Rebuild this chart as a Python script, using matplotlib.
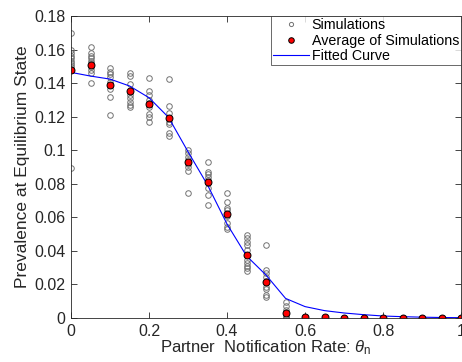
import matplotlib
matplotlib.use("Agg")
import matplotlib.pyplot as plt
from matplotlib.lines import Line2D

plt.rcParams['font.family'] = ['Liberation Sans', 'DejaVu Sans']
plt.rcParams['mathtext.fontset'] = 'custom'
plt.rcParams['mathtext.it'] = 'Liberation Sans:italic'
plt.rcParams['mathtext.rm'] = 'Liberation Sans'

# notification rates
theta = [0.0, 0.05, 0.1, 0.15, 0.2, 0.25, 0.3, 0.35, 0.4, 0.45, 0.5,
         0.55, 0.6, 0.65, 0.7, 0.75, 0.8, 0.85, 0.9, 0.95, 1.0]

# simulation runs at each rate
sims = [
    [0.1697, 0.1600, 0.1578, 0.1562, 0.1548, 0.1532, 0.1518, 0.1508, 0.1498, 0.1480, 0.0892],
    [0.1617, 0.1578, 0.1562, 0.1548, 0.1534, 0.1518, 0.1498, 0.1478, 0.1462, 0.1402],
    [0.1488, 0.1468, 0.1454, 0.1438, 0.1408, 0.1389, 0.1363, 0.1315, 0.1208],
    [0.1458, 0.1442, 0.1395, 0.1349, 0.1329, 0.1310, 0.1289, 0.1270, 0.1256],
    [0.1429, 0.1355, 0.1329, 0.1299, 0.1280, 0.1260, 0.1216, 0.1200, 0.1170],
    [0.1423, 0.1264, 0.1220, 0.1190, 0.1170, 0.1156, 0.1100, 0.1085],
    [0.1001, 0.0982, 0.0961, 0.0942, 0.0920, 0.0902, 0.0878, 0.0745],
    [0.0928, 0.0872, 0.0858, 0.0840, 0.0825, 0.0805, 0.0773, 0.0733, 0.0673],
    [0.0743, 0.0693, 0.0654, 0.0644, 0.0608, 0.0568, 0.0541, 0.0529],
    [0.0495, 0.0475, 0.0455, 0.0435, 0.0405, 0.0375, 0.0346, 0.0326, 0.0310, 0.0296, 0.0282],
    [0.0435, 0.0286, 0.0266, 0.0246, 0.0220, 0.0187, 0.0171, 0.0137, 0.0123],
    [0.0097, 0.0072, 0.0048, 0.0020, 0.0008, 0.0, 0.0],
    [0.0005, 0.0, 0.0], [0.0003, 0.0, 0.0], [0.0002, 0.0, 0.0], [0.0, 0.0],
    [0.0, 0.0], [0.0, 0.0], [0.0, 0.0], [0.0, 0.0], [0.0, 0.0],
]

avg = [0.148, 0.151, 0.139, 0.1353, 0.1277, 0.1192, 0.093, 0.0809, 0.0622, 0.0377, 0.0216,
       0.0028, 0.0005, 0.0004, 0.0003, 0.0002, 0.0002, 0.0001, 0.0001, 0.0, 0.0]

fit = [0.1464, 0.1442, 0.1424, 0.1383, 0.1313, 0.1196, 0.0991, 0.0793, 0.0560, 0.0370, 0.0256,
       0.0117, 0.0068, 0.0044, 0.0030, 0.0020, 0.0012, 0.0008, 0.0005, 0.0003, 0.0002]

xticks = [0, 0.2, 0.4, 0.6, 0.8, 1]
xticklabels = ['0', '0.2', '0.4', '0.6', '0.8', '1']
yticks = [0, 0.02, 0.04, 0.06, 0.08, 0.1, 0.12, 0.14, 0.16, 0.18]
yticklabels = ['0', '0.02', '0.04', '0.06', '0.08', '0.1', '0.12', '0.14', '0.16', '0.18']

fig = plt.figure(figsize=(4.62, 3.62), dpi=100)
ax = fig.add_axes([0.1537, 0.1215, 0.8443, 0.8343])

# gray open circles for every run
for t, ys in zip(theta, sims):
    ax.plot([t] * len(ys), ys, 'o', mfc='none', mec='0.45', ms=4, mew=0.7, ls='none')

ax.plot(theta, fit, '-', color='blue', lw=0.8)
ax.plot(theta, avg, 'o', mfc='red', mec='black', ms=5, mew=0.7, ls='none')

ax.set_xlim(0, 1)
ax.set_ylim(0, 0.18)
ax.set_xticks(xticks)
ax.set_xticklabels(xticklabels)
ax.set_yticks(yticks)
ax.set_yticklabels(yticklabels)
ax.tick_params(direction='in', top=True, right=True, labelsize=11.5, length=4,
               width=0.6, colors='0.15')
ax.tick_params(axis='x', pad=4)
ax.tick_params(axis='y', pad=4)
for s in ax.spines.values():
    s.set_linewidth(0.6)
    s.set_color('0.15')

ax.set_xlabel('Partner  Notification Rate: $\\mathit{\\theta}_{\\mathrm{n}}$',
              fontsize=12, color='0.15', labelpad=0)
ax.set_ylabel('Prevalence at Equilibrium State', fontsize=12.5, color='0.15', labelpad=3)

handles = [
    Line2D([], [], marker='o', mfc='none', mec='0.45', ms=3, mew=0.7, ls='none'),
    Line2D([], [], marker='o', mfc='red', mec='black', ms=4, mew=0.7, ls='none'),
    Line2D([], [], color='blue', lw=0.8),
]
leg = ax.legend(handles, ['Simulations', 'Average of Simulations', 'Fitted Curve'],
                loc='upper right', fontsize=10.3, frameon=True, fancybox=False,
                edgecolor='0.15', borderpad=0.15, labelspacing=0.1,
                handlelength=2.5, handletextpad=0.2, borderaxespad=0)
leg.get_frame().set_linewidth(0.6)

fig.savefig('out.png', dpi=100)
